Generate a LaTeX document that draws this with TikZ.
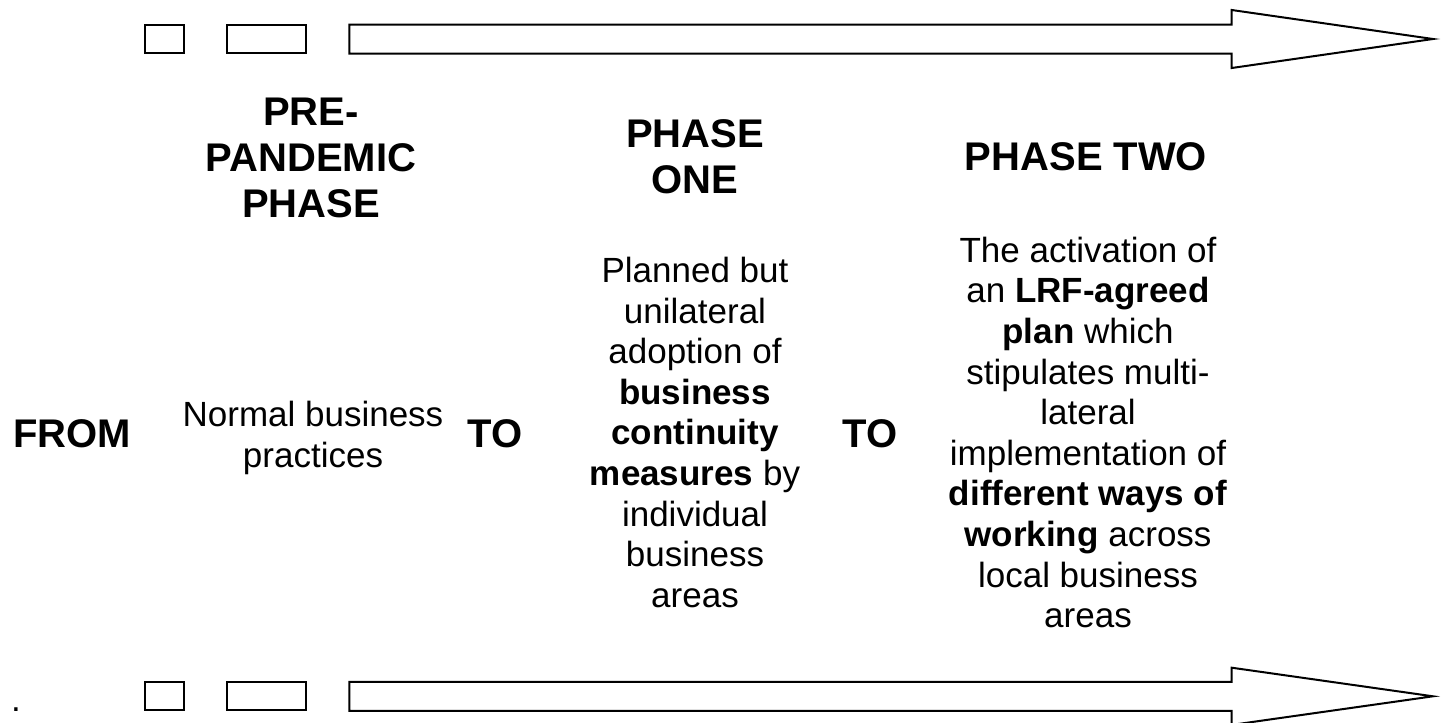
\documentclass[tikz,border=0pt]{standalone}
\usepackage{fontspec}
\setmainfont{Liberation Sans}
\usetikzlibrary{positioning}
\tikzstyle{box} = [rectangle, draw, line width=2pt, inner sep=0pt, minimum height=28pt]
\tikzstyle{timeline} = [draw, line width=2pt, line join=miter]
\tikzstyle{heading} = [font=\fontsize{40}{46}\selectfont\bfseries, align=center, inner sep=0pt]
\tikzstyle{body} = [font=\fontsize{35}{40.6}\selectfont, align=center, inner sep=0pt]

\begin{document}
\begin{tikzpicture}[x=1pt, y=-1pt]
  \useasboundingbox (0,0) rectangle (1441,723);
  % Place nodes
  % Top timeline
  \node[box, minimum width=39.3pt] (sqtop)  at (164.65,39) {};
  \node[box, minimum width=79.3pt] (rectop) at (266.35,39) {};
  \path[timeline] (349.3,24.5) -- (1231.7,24.5) -- (1231.7,10) -- (1433,39)
    -- (1231.7,68) -- (1231.7,53.5) -- (349.3,53.5) -- cycle;
  % Headings
  \node[heading, anchor=north] (prehead) at (311,97.4) {PRE-\\PANDEMIC\\PHASE};
  \node[heading, anchor=north] (onehead) at (695,119.4) {PHASE\\ONE};
  \node[heading, anchor=base]  (twohead) at (1086,170) {PHASE TWO};
  % Middle row
  \node[heading, anchor=base] (from) at (72,447) {FROM};
  \node[body, anchor=north] (normal) at (313,401) {Normal business\\practices};
  \node[heading, anchor=base] (to1) at (495,447) {TO};
  \node[body, anchor=north] (onetext) at (695,257)
    {Planned but\\unilateral\\adoption of\\\textbf{business}\\\textbf{continuity}\\
     \textbf{measures} by\\individual\\business\\areas};
  \node[heading, anchor=base] (to2) at (870,447) {TO};
  \node[body, anchor=north] (twotext) at (1088,236.7)
    {The activation of\\an \textbf{LRF-agreed}\\\textbf{plan} which\\stipulates multi-\\lateral\\
     implementation of\\\textbf{different ways of}\\\textbf{working} across\\local business\\areas};
  % Bottom timeline
  \node[body, anchor=base] (dot) at (16,711) {.};
  \node[box, minimum width=39.3pt] (sqbot)  at (164.65,696.3) {};
  \node[box, minimum width=79.3pt] (recbot) at (266.35,696.3) {};
  \path[timeline] (349.3,681.8) -- (1231.7,681.8) -- (1231.7,667.7) -- (1433,696.3)
    -- (1231.7,724.9) -- (1231.7,710.8) -- (349.3,710.8) -- cycle;
\end{tikzpicture}
\end{document}
